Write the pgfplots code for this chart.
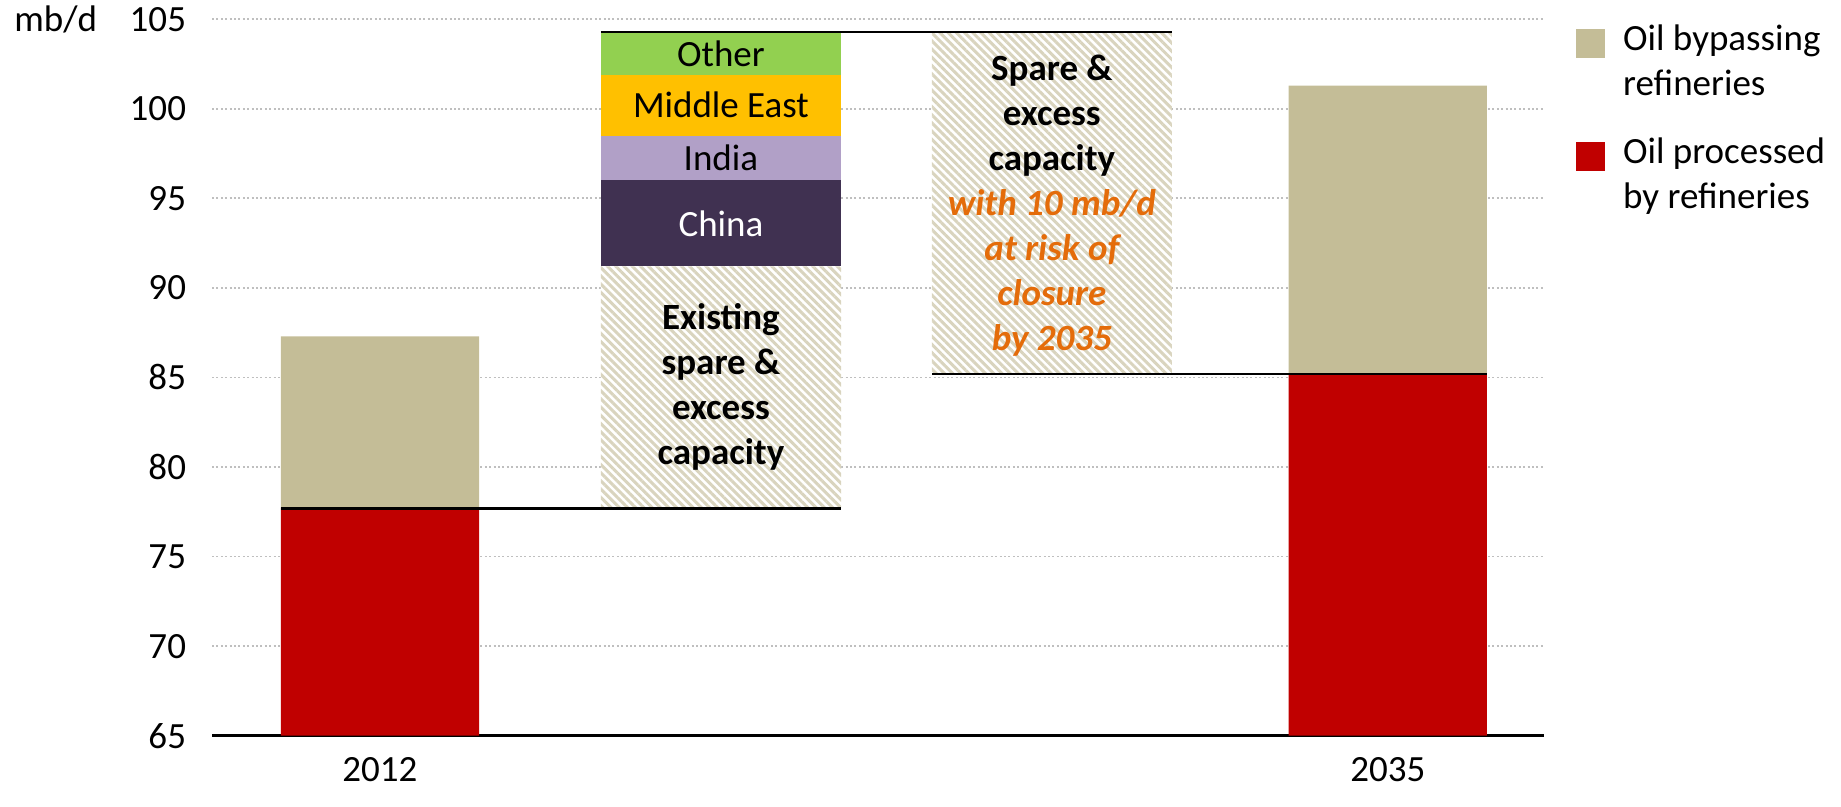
\documentclass[border=0pt]{standalone}
\usepackage{pgfplots}
\pgfplotsset{compat=1.18}
\usepackage{fontspec}
\setmainfont{Carlito}
\usetikzlibrary{patterns.meta}
\definecolor{cred}{HTML}{C00000}
\definecolor{cbeige}{HTML}{C4BD97}
\definecolor{cgreen}{HTML}{92D050}
\definecolor{cgold}{HTML}{FFC000}
\definecolor{clav}{HTML}{B1A0C7}
\definecolor{cplum}{HTML}{403151}
\definecolor{corange}{HTML}{E46C0A}
\definecolor{cstripe}{HTML}{D9D4BE}
\definecolor{cgrid}{HTML}{BFBFBF}
\newcommand\F{\fontsize{18.5}{22.5}\selectfont}
\begin{document}
\begin{tikzpicture}
\path[use as bounding box] (-106pt,-35.65pt) rectangle (814.5pt,367.85pt);
\begin{axis}[
  scale only axis, width=666pt, height=358.2pt,
  xmin=-0.5, xmax=3.465, ymin=65, ymax=105,
  ytick={65,70,...,105},
  xtick={0,3}, xticklabels={2012,2035},
  ymajorgrids, grid style={cgrid, line width=0.9pt, dash pattern=on 1pt off 1.2pt},
  axis x line*=bottom, axis y line*=left,
  y axis line style={draw=none},
  x axis line style={black, line width=1.2pt, -},
  tick style={draw=none},
  /pgf/number format/assume math mode=true,
  tick label style={font=\F},
  yticklabel style={inner sep=0pt, xshift=-12.8pt},
  xticklabel style={inner sep=0pt, yshift=-10.7pt},
  ybar stacked,
  legend style={at={(axis description cs:1.024,0.9934)}, anchor=north west, draw=none, fill=none,
    inner sep=0pt, font=\F, row sep=20pt, column sep=9pt, nodes={align=left, inner sep=0pt}},
  legend cell align=left,
]
% level 1: oil processed (2012, 2035) and invisible base
\addplot[forget plot, fill=cred, draw=none, bar width=0.59] coordinates {(0,77.7) (1.015,0) (2.0,0) (3,85.2)};
\addplot[forget plot, fill=none, draw=none, bar width=0.715] coordinates {(0,0) (1.015,77.7) (2.0,85.2) (3,0)};
% oil bypassing refineries
\addplot[forget plot, fill=cbeige, draw=none, bar width=0.59] coordinates {(0,9.6) (1.015,0) (2.0,0) (3,16.1)};
% spare & excess capacity (hatched)
\addplot[forget plot, draw=none, fill=white, bar width=0.715,
  postaction={pattern={Lines[angle=135,distance=2.9pt,line width=1.5pt]}, pattern color=cstripe}]
  coordinates {(0,0) (1.015,13.5) (2.0,19.1) (3,0)};
% new capacity by region
\addplot[forget plot, fill=cplum, draw=none, bar width=0.715] coordinates {(0,0) (1.015,4.8) (2.0,0) (3,0)};
\addplot[forget plot, fill=clav, draw=none, bar width=0.715] coordinates {(0,0) (1.015,2.5) (2.0,0) (3,0)};
\addplot[forget plot, fill=cgold, draw=none, bar width=0.715] coordinates {(0,0) (1.015,3.4) (2.0,0) (3,0)};
\addplot[forget plot, fill=cgreen, draw=none, bar width=0.715] coordinates {(0,0) (1.015,2.4) (2.0,0) (3,0)};
% legend
\addlegendimage{legend image code/.code={\fill[cbeige] (0pt,2.1pt) rectangle (14pt,16.1pt);}}
\addlegendentry{Oil bypassing\\refineries}
\addlegendimage{legend image code/.code={\fill[cred] (0pt,2.1pt) rectangle (14pt,16.1pt);}}
\addlegendentry{Oil processed\\by refineries}
\end{axis}
% overlay axis: connector lines and labels on top of the bars
\begin{axis}[
  scale only axis, width=666pt, height=358.2pt,
  xmin=-0.5, xmax=3.465, ymin=65, ymax=105,
  hide axis, clip=false,
]
\addplot[sharp plot, black, line width=1.3pt] coordinates {(-0.295,77.7) (1.3725,77.7)};
\addplot[sharp plot, black, line width=1.3pt] coordinates {(0.6575,104.3) (2.3575,104.3)};
\addplot[sharp plot, black, line width=1.3pt] coordinates {(1.6445,85.2) (3.295,85.2)};
\node[font=\F] at (axis cs:1.015,103.1) {Other};
\node[font=\F] at (axis cs:1.015,100.2) {Middle East};
\node[font=\F] at (axis cs:1.015,97.25) {India};
\node[font=\F, white] at (axis cs:1.015,93.6) {China};
\node[font=\F\bfseries, align=center] at (axis cs:1.015,84.45) {Existing\\spare \&\\excess\\capacity};
\node[font=\F\bfseries, align=center] at (axis cs:2.0,94.6) {Spare \&\\excess\\capacity\\\textcolor{corange}{\itshape with 10 mb/d}\\\textcolor{corange}{\itshape at risk of}\\\textcolor{corange}{\itshape closure}\\\textcolor{corange}{\itshape by 2035}};
\node[font=\F, anchor=base east, inner sep=0pt, xshift=-57.3pt, yshift=-5.9pt] at (axis cs:-0.5,105) {mb/d};
\end{axis}
\end{tikzpicture}
\end{document}
